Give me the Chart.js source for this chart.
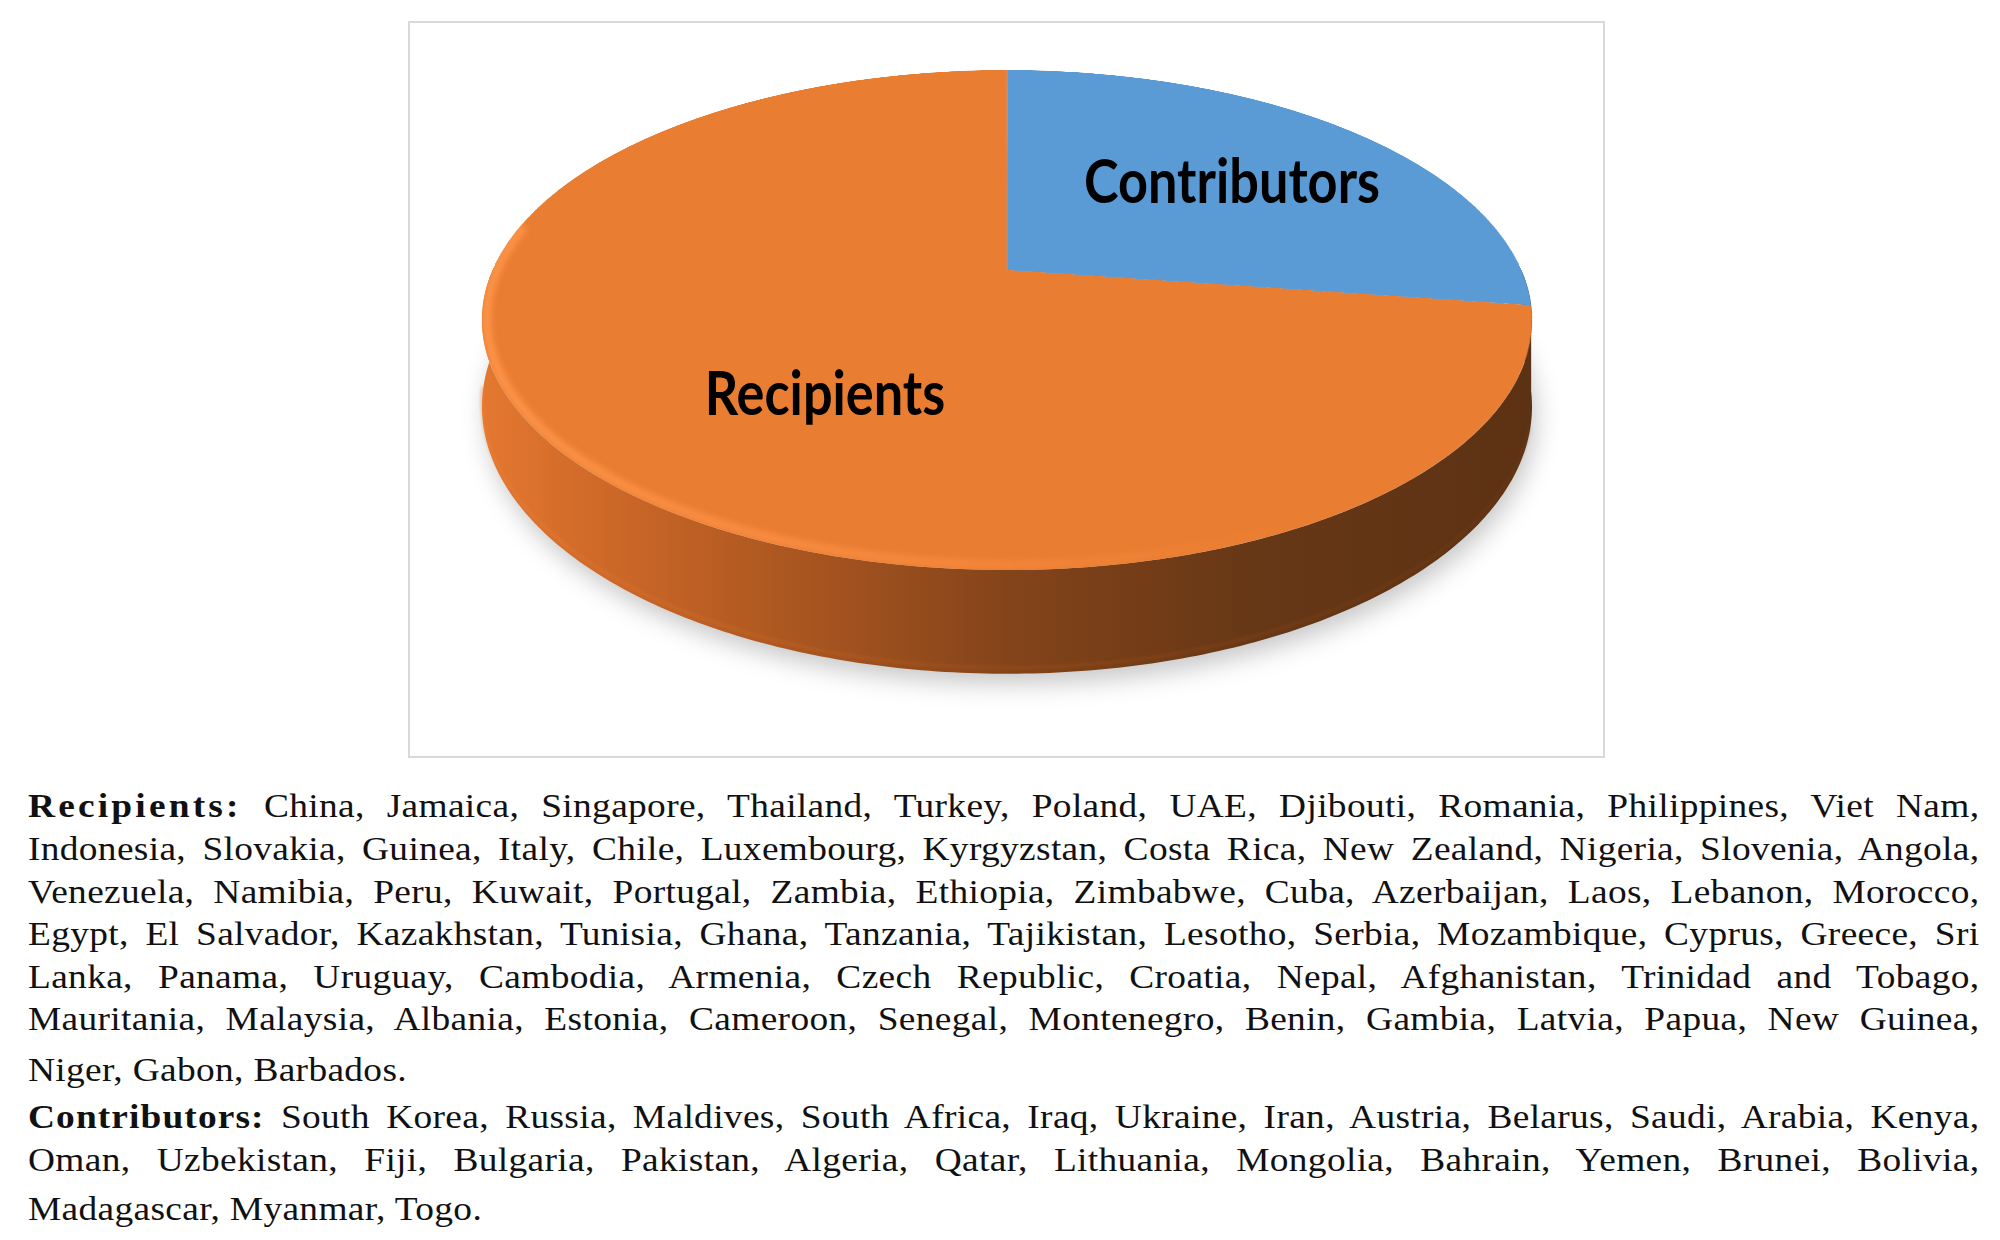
<!DOCTYPE html>
<html>
<head>
<meta charset="utf-8">
<script src="https://cdn.jsdelivr.net/npm/chart.js@4.4.0/dist/chart.umd.min.js"></script>
<style>
html,body{margin:0;padding:0;background:#fff;width:2000px;height:1240px;overflow:hidden;}
#box{position:absolute;left:408px;top:21px;width:1197px;height:737px;border:2px solid #d9d9d9;box-sizing:border-box;overflow:hidden;}
#c{position:absolute;left:0;top:0;}
.ln{position:absolute;left:28px;width:1774px;transform:scaleX(1.1);transform-origin:0 0;font-family:"Liberation Serif","Times New Roman",serif;font-size:34px;line-height:42px;color:#111;text-align:justify;text-align-last:justify;letter-spacing:0.3px;}
.ln.last{text-align:left;text-align-last:left;}
.hd{font-weight:bold;}
</style>
</head>
<body>
<div id="box"><canvas id="c" width="1193" height="1193"></canvas></div>
<div id="txt"></div>
<script>
// ---- data ----
const categories = ['Contributors', 'Recipients'];
const counts = [27, 72];
const sliceColors = ['#5B9BD5', '#E97D31'];
const recipientLines = [
  'China, Jamaica, Singapore, Thailand, Turkey, Poland, UAE, Djibouti, Romania, Philippines, Viet Nam,',
  'Indonesia, Slovakia, Guinea, Italy, Chile, Luxembourg, Kyrgyzstan, Costa Rica, New Zealand, Nigeria, Slovenia, Angola,',
  'Venezuela, Namibia, Peru, Kuwait, Portugal, Zambia, Ethiopia, Zimbabwe, Cuba, Azerbaijan, Laos, Lebanon, Morocco,',
  'Egypt, El Salvador, Kazakhstan, Tunisia, Ghana, Tanzania, Tajikistan, Lesotho, Serbia, Mozambique, Cyprus, Greece, Sri',
  'Lanka, Panama, Uruguay, Cambodia, Armenia, Czech Republic, Croatia, Nepal, Afghanistan, Trinidad and Tobago,',
  'Mauritania, Malaysia, Albania, Estonia, Cameroon, Senegal, Montenegro, Benin, Gambia, Latvia, Papua, New Guinea,',
  'Niger, Gabon, Barbados.'
];
const contributorLines = [
  'South Korea, Russia, Maldives, South Africa, Iraq, Ukraine, Iran, Austria, Belarus, Saudi, Arabia, Kenya,',
  'Oman, Uzbekistan, Fiji, Bulgaria, Pakistan, Algeria, Qatar, Lithuania, Mongolia, Bahrain, Yemen, Brunei, Bolivia,',
  'Madagascar, Myanmar, Togo.'
];

// ---- caption text ----
(function(){
  const baselines = [817, 860, 903, 945, 988, 1030, 1081, 1128, 1171, 1220];
  const holder = document.getElementById('txt');
  const rows = [];
  recipientLines.forEach((t,i)=>rows.push({head: i===0 ? 'Recipients:' : null, hs:'2.9px', text:t, last:i===recipientLines.length-1}));
  contributorLines.forEach((t,i)=>rows.push({head: i===0 ? 'Contributors:' : null, hs:'1px', text:t, last:i===contributorLines.length-1}));
  rows.forEach((r,i)=>{
    const d = document.createElement('div');
    d.className = 'ln' + (r.last ? ' last' : '');
    d.style.top = (baselines[i] - 32.5) + 'px';
    if (r.head) {
      const s = document.createElement('span');
      s.className = 'hd';
      s.style.letterSpacing = r.hs;
      s.textContent = r.head;
      d.appendChild(s);
      d.appendChild(document.createTextNode(' ' + r.text));
    } else {
      d.textContent = r.text;
    }
    holder.appendChild(d);
  });
})();

// ---- perspective 3D pie plugin ----
// projection of the unit disc (u,v) onto the screen: X = cx + a*u/w, Y = (b*v + d)/w, w = 1 - g*v
const P = {cx: 597, d: 247, a: 514.4, b: 190.6, g: 0.2, depth: 83};
function proj(u, v){ const w = 1 - P.g*v; return {x: P.cx + P.a*u/w, y: (P.b*v + P.d)/w, w: w}; }
function projAng(phi){ return proj(Math.cos(phi), Math.sin(phi)); }
const wallStops = {
  '#E97D31': [[0,'rgb(228,120,48)'],[0.12,'rgb(205,104,40)'],[0.3,'rgb(170,86,32)'],[0.5,'rgb(132,68,26)'],[0.72,'rgb(104,56,22)'],[1,'rgb(92,50,20)']],
  '#5B9BD5': [[0,'rgb(80,135,190)'],[0.5,'rgb(50,85,120)'],[1,'rgb(36,62,90)']]
};
function frontIntervals(s, e){
  const out = [];
  for (let k = -1; k <= 1; k++) {
    const lo = Math.max(s, 2*Math.PI*k), hi = Math.min(e, Math.PI + 2*Math.PI*k);
    if (hi > lo) out.push([lo, hi]);
  }
  return out;
}
const labelUV = {Contributors: [0.4716, -0.391], Recipients: [-0.3205, 0.4717]};

const pie3d = {
  id: 'pie3d',
  afterDatasetsDraw(chart) {
    const ctx = chart.ctx;
    const cvs = chart.canvas;
    const W = cvs.width, H = cvs.height;
    const arcs = chart.getDatasetMeta(0).data;
    const a0 = arcs[0];
    const sx0 = a0.x, sy0 = a0.y, R = a0.outerRadius;
    // keep what the library drew (flat pie), then rebuild the view in perspective
    const off = document.createElement('canvas');
    off.width = W; off.height = H;
    off.getContext('2d').drawImage(cvs, 0, 0);
    ctx.save();
    ctx.setTransform(1, 0, 0, 1, 0, 0);
    ctx.clearRect(0, 0, W, H);

    const N = 240;
    // shadow below
    ctx.save();
    ctx.filter = 'blur(12px)';
    ctx.fillStyle = 'rgba(0,0,0,0.22)';
    ctx.beginPath();
    for (let i = 0; i <= N; i++) {
      const p = projAng(2*Math.PI*i/N);
      const x = p.x + 4, y = p.y + P.depth/p.w + 10;
      i ? ctx.lineTo(x, y) : ctx.moveTo(x, y);
    }
    ctx.closePath();
    ctx.fill();
    ctx.restore();

    // side walls, following each slice's angles
    arcs.forEach((arc, i) => {
      const col = chart.data.datasets[0].backgroundColor[i];
      const g = ctx.createLinearGradient(P.cx - 525, 0, P.cx + 525, 0);
      (wallStops[col] || wallStops['#E97D31']).forEach(s => g.addColorStop(s[0], s[1]));
      frontIntervals(arc.startAngle, arc.endAngle).forEach(([lo, hi]) => {
        ctx.fillStyle = g;
        ctx.beginPath();
        const pts = [];
        for (let k = 0; k <= N; k++) pts.push(projAng(lo + (hi - lo)*k/N));
        pts.forEach((p, k) => k ? ctx.lineTo(p.x, p.y) : ctx.moveTo(p.x, p.y));
        for (let k = N; k >= 0; k--) ctx.lineTo(pts[k].x, pts[k].y + P.depth/pts[k].w);
        ctx.closePath();
        ctx.fill();
      });
    });
    // bottom bevel line
    ctx.save();
    ctx.filter = 'blur(1.5px)';
    const bg = ctx.createLinearGradient(P.cx - 525, 0, P.cx + 525, 0);
    bg.addColorStop(0, 'rgba(240,130,55,0.45)');
    bg.addColorStop(0.5, 'rgba(170,80,25,0.45)');
    bg.addColorStop(1, 'rgba(120,60,20,0.3)');
    ctx.strokeStyle = bg;
    ctx.lineWidth = 3;
    ctx.beginPath();
    for (let k = 0; k <= N; k++) {
      const phi = 0.3 + (Math.PI - 0.45)*k/N;
      const p = projAng(phi);
      const y = p.y + P.depth/p.w - 6;
      k ? ctx.lineTo(p.x, y) : ctx.moveTo(p.x, y);
    }
    ctx.stroke();
    ctx.restore();

    // top face: each row of the library's pie, projected
    ctx.imageSmoothingEnabled = true;
    const yTop = Math.floor(proj(0, -1).y) - 1, yBot = Math.ceil(proj(0, 1).y) + 1;
    for (let Y = yTop; Y <= yBot; Y++) {
      const yc = Y + 0.5;
      const v = (yc - P.d) / (P.b + P.g*yc);
      if (v < -1.002 || v > 1.002) continue;
      const w = 1 - P.g*v;
      const srcY = sy0 + v*R;
      const s = P.a / (w*R);
      ctx.drawImage(off, 0, srcY - 0.5, W, 1, P.cx - s*sx0, Y, W*s, 1);
    }

    // front rim highlight on the top face
    ctx.save();
    ctx.beginPath();
    for (let i = 0; i <= N; i++) {
      const p = projAng(2*Math.PI*i/N);
      i ? ctx.lineTo(p.x, p.y) : ctx.moveTo(p.x, p.y);
    }
    ctx.closePath();
    ctx.clip();
    ctx.filter = 'blur(3px)';
    const hg = ctx.createLinearGradient(P.cx - 525, 0, P.cx + 525, 0);
    hg.addColorStop(0, 'rgba(255,150,75,0.95)');
    hg.addColorStop(0.45, 'rgba(255,145,70,0.55)');
    hg.addColorStop(0.8, 'rgba(255,140,60,0.0)');
    ctx.strokeStyle = hg;
    ctx.lineWidth = 9;
    ctx.beginPath();
    for (let k = 0; k <= N; k++) {
      const phi = 0.35 + (Math.PI*0.95)*k/N;
      const p = proj(Math.cos(phi)*0.992, Math.sin(phi)*0.985);
      k ? ctx.lineTo(p.x, p.y) : ctx.moveTo(p.x, p.y);
    }
    ctx.stroke();
    ctx.restore();

    // labels
    ctx.font = 'bold 56px Lato, "Open Sans", sans-serif';
    const sx = 296 / ctx.measureText('Contributors').width;
    chart.data.labels.forEach(lbl => {
      const uv = labelUV[lbl];
      if (!uv) return;
      const p = proj(uv[0], uv[1]);
      ctx.save();
      ctx.translate(p.x, p.y);
      ctx.scale(sx, 1.1);
      ctx.fillStyle = '#000';
      ctx.textAlign = 'center';
      ctx.textBaseline = 'middle';
      ctx.fillText(lbl, 0, 0);
      ctx.restore();
    });
    ctx.restore();
  }
};

new Chart(document.getElementById('c').getContext('2d'), {
  type: 'pie',
  data: {
    labels: categories,
    datasets: [{data: counts, backgroundColor: sliceColors, borderWidth: 0}]
  },
  options: {
    responsive: false,
    animation: false,
    devicePixelRatio: 1,
    layout: {padding: 0},
    plugins: {legend: {display: false}, tooltip: {enabled: false}}
  },
  plugins: [pie3d]
});
</script>
</body>
</html>
